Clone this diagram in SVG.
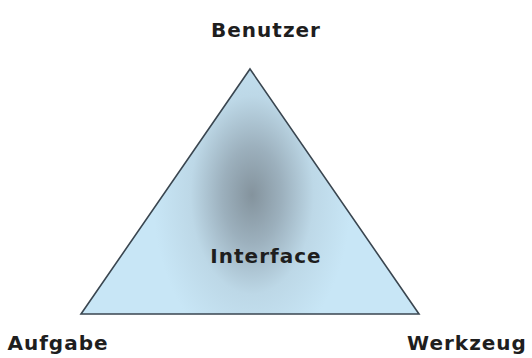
<svg xmlns="http://www.w3.org/2000/svg" width="532" height="358" viewBox="0 0 532 358">
<style>
.lbl{font-family:"DejaVu Sans","Liberation Sans",sans-serif;font-weight:bold;font-size:20px;fill:#1e1e1e;letter-spacing:1px}
.edge{fill:url(#g);stroke:#3a4650;stroke-width:1.6;stroke-linejoin:miter}
</style>
<defs>
<radialGradient id="g" cx="252" cy="195" r="160" gradientUnits="userSpaceOnUse" gradientTransform="translate(252 195) scale(0.62 1) translate(-252 -195)">
<stop offset="0" stop-color="#84939d"/>
<stop offset="0.3" stop-color="#9cb0bd"/>
<stop offset="0.62" stop-color="#bdd8e7"/>
<stop offset="1" stop-color="#c8e6f6"/>
</radialGradient>
</defs>
<rect width="532" height="358" fill="#ffffff"/>
<g id="interface">
<polygon class="edge" points="250,69 419,314 81,314"/>
<text class="lbl" x="266" y="263" text-anchor="middle">Interface</text>
</g>
<g id="benutzer"><text class="lbl" x="266" y="37" text-anchor="middle">Benutzer</text></g>
<g id="aufgabe"><text class="lbl" x="58" y="350" text-anchor="middle">Aufgabe</text></g>
<g id="werkzeug"><text class="lbl" x="467" y="350" text-anchor="middle">Werkzeug</text></g>
<g id="connectors"></g>
</svg>
